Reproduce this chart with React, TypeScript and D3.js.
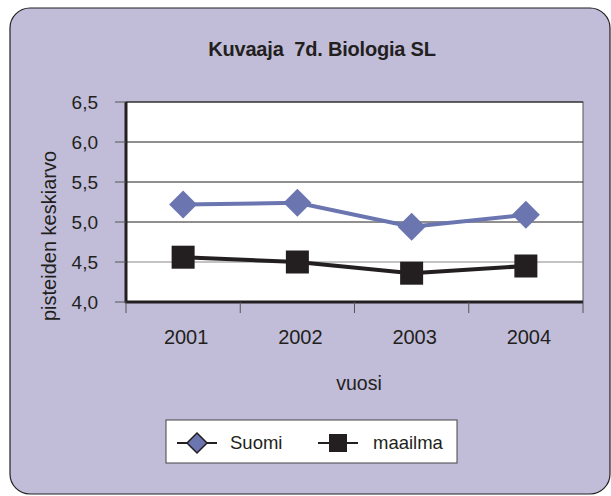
import * as d3 from "d3";

const years = ["2001", "2002", "2003", "2004"];
const suomi = [5.22, 5.24, 4.94, 5.09];
const maailma = [4.56, 4.5, 4.36, 4.45];
const yTicks = [4.0, 4.5, 5.0, 5.5, 6.0, 6.5];

const W = 611;
const H = 496;
const plot = { left: 126, right: 583, top: 102, bottom: 302 };
const bg = "#c1bdd9";
const blue = "#6b76b0";
const ink = "#231f20";
const font = "'Liberation Sans', Arial, sans-serif";

export default function App() {
  const x = d3.scaleBand<string>().domain(years).range([plot.left, plot.right]);
  const y = d3.scaleLinear().domain([4, 6.5]).range([plot.bottom, plot.top]);
  const cx = (d: string) => (x(d) ?? 0) + x.bandwidth() / 2;

  const line = d3.line<[string, number]>().x(d => cx(d[0])).y(d => y(d[1]));
  const fmt = (v: number) => v.toFixed(1).replace(".", ",");
  const diamond = (px: number, py: number, r: number) =>
    `M${px},${py - r}L${px + r},${py}L${px},${py + r}L${px - r},${py}Z`;

  const bounds = [...years.map(d => x(d) ?? 0), plot.right];

  return (
    <svg width={W} height={H} style={{ position: "absolute", left: 0, top: 0 }} fontFamily={font}>
      <rect x={10} y={8} width={600} height={486} rx={20} fill={bg} stroke={ink} strokeWidth={1.2} />
      <text x={322} y={56} textAnchor="middle" fontSize={20} fontWeight="bold" fill={ink} letterSpacing={-0.2}>
        {"Kuvaaja\u00a0 7d. Biologia SL"}
      </text>

      <rect x={plot.left} y={plot.top} width={plot.right - plot.left} height={plot.bottom - plot.top}
        fill="#fff" stroke="#555" strokeWidth={1} />
      {yTicks.slice(1, -1).map(t => (
        <line key={t} x1={plot.left} x2={plot.right} y1={y(t)} y2={y(t)}
          stroke={t === 4.5 ? "#888" : ink} strokeWidth={1} />
      ))}
      <line x1={plot.left} x2={plot.right} y1={plot.top} y2={plot.top} stroke={ink} strokeWidth={1} />
      <line x1={plot.left} x2={plot.left} y1={plot.top} y2={plot.bottom + 1} stroke={ink} strokeWidth={3} />
      <line x1={plot.left - 1} x2={plot.right} y1={plot.bottom} y2={plot.bottom} stroke={ink} strokeWidth={3} />

      {yTicks.map(t => (
        <g key={t}>
          <line x1={plot.left - 11} x2={plot.left} y1={y(t)} y2={y(t)} stroke="#555" strokeWidth={1} />
          <text x={98} y={y(t) + 6.5} textAnchor="end" fontSize={19} fill={ink}>{fmt(t)}</text>
        </g>
      ))}
      {bounds.map((b, i) => (
        <line key={i} x1={b} x2={b} y1={plot.bottom} y2={plot.bottom + 11} stroke="#555" strokeWidth={1} />
      ))}
      {years.map(d => (
        <text key={d} x={cx(d) + 3} y={344} textAnchor="middle" fontSize={20} fill={ink}>{d}</text>
      ))}

      <text transform={`translate(56,${plot.top + 134}) rotate(-90)`} textAnchor="middle" fontSize={20} fill={ink}>
        pisteiden keskiarvo
      </text>
      <text x={359} y={390} textAnchor="middle" fontSize={19.5} fill={ink}>vuosi</text>

      <path d={line(years.map((d, i) => [d, suomi[i]] as [string, number])) ?? ""} fill="none" stroke={blue} strokeWidth={4} />
      <path d={line(years.map((d, i) => [d, maailma[i]] as [string, number])) ?? ""} fill="none" stroke={ink} strokeWidth={4} />
      {years.map((d, i) => (
        <path key={d} d={diamond(cx(d), y(suomi[i]), 14)} fill={blue} />
      ))}
      {years.map((d, i) => (
        <rect key={d} x={cx(d) - 11.5} y={y(maailma[i]) - 11.5} width={23} height={23} fill={ink} />
      ))}

      <rect x={166} y={420} width={291} height={43} fill="#fff" stroke="#444" strokeWidth={1} />
      <line x1={177} x2={217} y1={443} y2={443} stroke={ink} strokeWidth={2} />
      <path d={diamond(197, 443, 10)} fill={blue} stroke={ink} strokeWidth={1.5} />
      <text x={230} y={449} fontSize={18.5} fill={ink}>Suomi</text>
      <line x1={318} x2={358} y1={443} y2={443} stroke={ink} strokeWidth={2} />
      <rect x={329} y={434} width={18} height={18} fill={ink} />
      <text x={373} y={449} fontSize={18.5} fill={ink}>maailma</text>
    </svg>
  );
}
